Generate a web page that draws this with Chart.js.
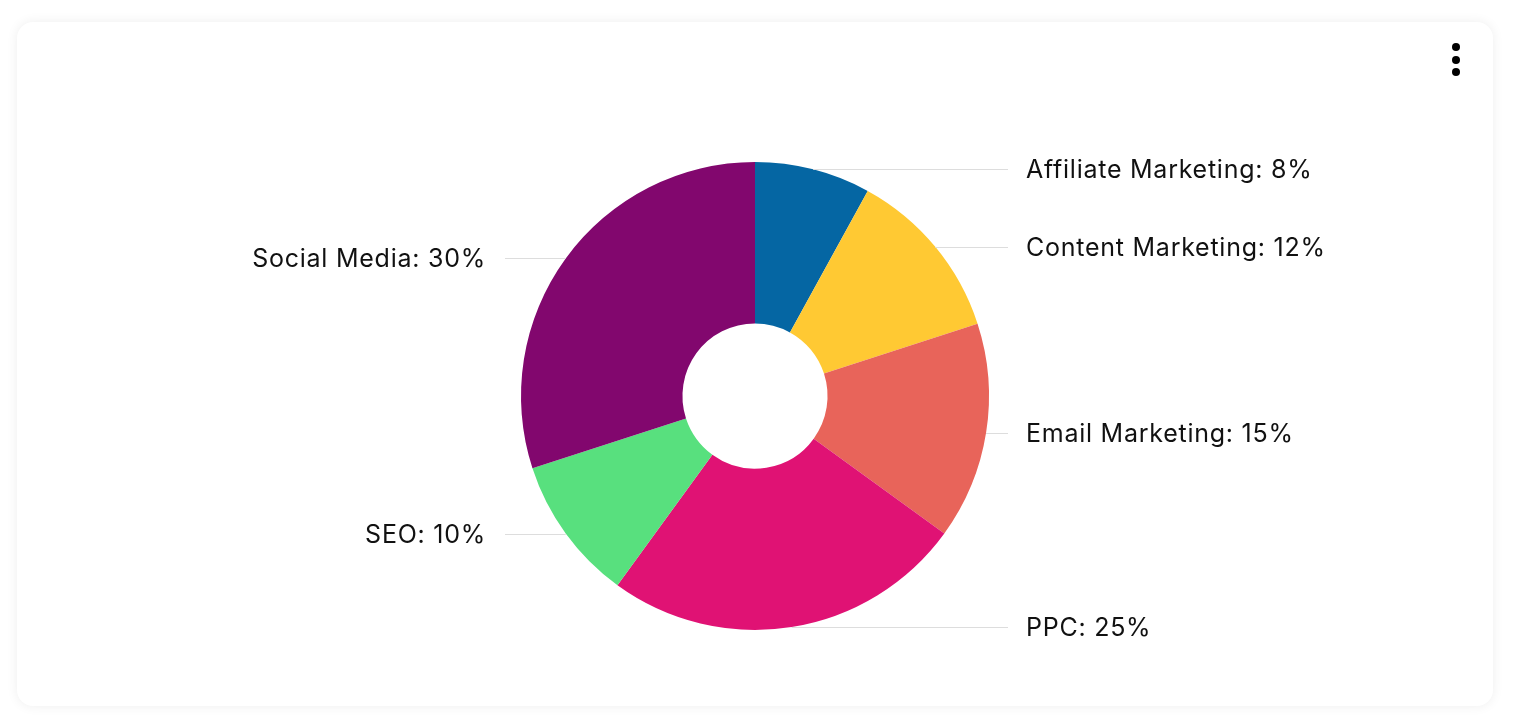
<!DOCTYPE html>
<html>
<head>
<meta charset="utf-8">
<script src="https://cdn.jsdelivr.net/npm/chart.js@4.4.1/dist/chart.umd.min.js"></script>
<style>
  html, body { margin: 0; padding: 0; background: #ffffff; width: 1514px; height: 726px; overflow: hidden; }
  #card { position: absolute; left: 17px; top: 22px; width: 1476px; height: 684px; background: #fff;
          border-radius: 16px; box-shadow: 0 0 12px rgba(0,0,0,0.07); }
  #wrap { position: absolute; left: 0; top: 0; width: 1514px; height: 726px; }
  .dot { position: absolute; left: 1452px; width: 8px; height: 8px; border-radius: 50%; background: #000; }
</style>
</head>
<body>
<div id="card"></div>
<div class="dot" style="top:43px"></div>
<div class="dot" style="top:56px"></div>
<div class="dot" style="top:68px"></div>
<div id="wrap"><canvas id="c"></canvas></div>
<script>
const categories = ["Affiliate Marketing", "Content Marketing", "Email Marketing", "PPC", "SEO", "Social Media"];
const shares = [8, 12, 15, 25, 10, 30];
const sliceColors = ["#0566A3", "#FFC933", "#E8645A", "#E01274", "#58E07E", "#82076E"];

const labelFont = '25px Inter, "Noto Sans", sans-serif';

const leaderLabels = {
  id: 'leaderLabels',
  afterDraw(chart) {
    const ctx = chart.ctx;
    const meta = chart.getDatasetMeta(0);
    ctx.save();
    ctx.font = labelFont;
    ctx.letterSpacing = '0.75px';
    ctx.textBaseline = 'alphabetic';
    meta.data.forEach((arc, i) => {
      const p = arc.getProps(['x', 'y', 'startAngle', 'endAngle', 'outerRadius'], true);
      const mid = (p.startAngle + p.endAngle) / 2;
      const px = p.x + Math.cos(mid) * p.outerRadius;
      const py = p.y + Math.sin(mid) * p.outerRadius;
      const right = Math.cos(mid) >= 0;
      const lineEnd = right ? p.x + p.outerRadius + 19 : p.x - p.outerRadius - 16;
      const textX = right ? p.x + p.outerRadius + 37 : p.x - p.outerRadius - 35;
      ctx.strokeStyle = '#dddddd';
      ctx.lineWidth = 1;
      ctx.beginPath();
      ctx.moveTo(px, Math.round(py) + 0.5);
      ctx.lineTo(lineEnd, Math.round(py) + 0.5);
      ctx.stroke();
      ctx.fillStyle = '#111111';
      ctx.textAlign = right ? 'left' : 'right';
      ctx.fillText(categories[i] + ': ' + shares[i] + '%', textX, py + 9);
    });
    ctx.restore();
  }
};

new Chart(document.getElementById('c'), {
  type: 'doughnut',
  data: {
    labels: categories,
    datasets: [{
      data: shares,
      backgroundColor: sliceColors,
      borderWidth: 0,
      hoverOffset: 0
    }]
  },
  options: {
    responsive: true,
    maintainAspectRatio: false,
    animation: false,
    cutout: '31%',
    layout: { padding: { top: 162, bottom: 96, left: 521, right: 525 } },
    plugins: {
      legend: { display: false },
      tooltip: { enabled: false }
    }
  },
  plugins: [leaderLabels]
});
</script>
</body>
</html>
